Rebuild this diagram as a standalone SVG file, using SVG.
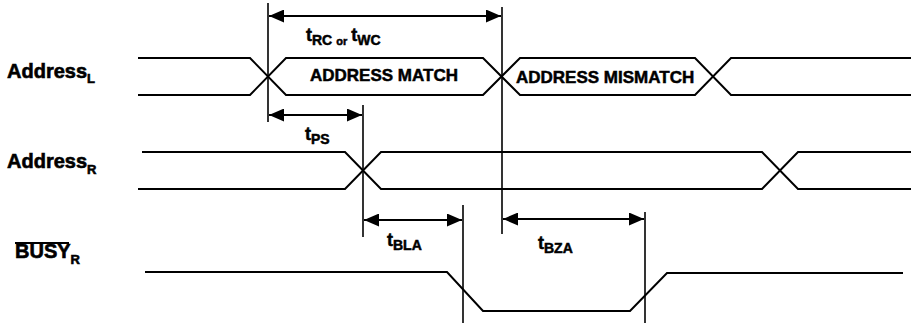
<svg xmlns="http://www.w3.org/2000/svg" width="911" height="323" viewBox="0 0 911 323">
<style>
.sig{fill:none;stroke:#000;stroke-width:2;stroke-linejoin:miter}
.ref{fill:none;stroke:#000;stroke-width:1.6}
.dim{fill:none;stroke:#000;stroke-width:2}
.lbl{font-family:"Liberation Sans",Arial,sans-serif;font-weight:bold;font-size:20px;fill:#000;stroke:#000;stroke-width:0.6}
.sub{font-size:13px}
.box{font-family:"Liberation Sans",Arial,sans-serif;font-weight:bold;font-size:17px;fill:#000;stroke:#000;stroke-width:0.5}
.tm{font-family:"Liberation Sans",Arial,sans-serif;font-weight:bold;font-size:18px;fill:#000;stroke:#000;stroke-width:0.5}
.ts{font-size:14px}
.or{font-size:11px}
</style>
<defs>
<marker id="ah" markerUnits="userSpaceOnUse" markerWidth="15" markerHeight="13" refX="15" refY="6.5" orient="auto-start-reverse" viewBox="0 0 15 13">
<path d="M0,0 L15,6.5 L0,13 z" fill="#000"/>
</marker>
</defs>
<rect width="911" height="323" fill="#fff"/>

<g id="addressL">
<text class="lbl" x="7" y="78">Address<tspan class="sub" dy="5">L</tspan></text>
<polyline class="sig" points="138,58 250,58 286,95 483,95 520,58 695,58 731,95 911,95"/>
<polyline class="sig" points="138,95 250,95 286,58 483,58 520,95 695,95 731,58 911,58"/>
<text class="box" x="384" y="81" text-anchor="middle">ADDRESS MATCH</text>
<text class="box" x="516" y="83">ADDRESS MISMATCH</text>
</g>

<g id="addressR">
<text class="lbl" x="7" y="168">Address<tspan class="sub" dy="6">R</tspan></text>
<polyline class="sig" points="142,152 345,152 381,189 762,189 798,152 911,152"/>
<polyline class="sig" points="138,189 345,189 381,152 762,152 798,189 911,189"/>
</g>

<g id="busyR">
<text class="lbl" x="15" y="258">BUSY<tspan class="sub" dy="6">R</tspan></text>
<line x1="15" y1="243" x2="69" y2="243" stroke="#000" stroke-width="2.2"/>
<polyline class="sig" points="145,272 447,272 483,311 630,311 667,273 903,273"/>
</g>

<g id="connectors">
<line class="ref" x1="268" y1="3" x2="268" y2="122"/>
<line class="ref" x1="502" y1="7" x2="502" y2="234"/>
<line class="ref" x1="363" y1="105" x2="363" y2="237"/>
<line class="ref" x1="463" y1="205" x2="463" y2="323"/>
<line class="ref" x1="645" y1="212" x2="645" y2="323"/>
<line class="dim" x1="269" y1="16" x2="501" y2="16" marker-start="url(#ah)" marker-end="url(#ah)"/>
<line class="dim" x1="269" y1="115" x2="362" y2="115" marker-start="url(#ah)" marker-end="url(#ah)"/>
<line class="dim" x1="364" y1="220" x2="462" y2="220" marker-start="url(#ah)" marker-end="url(#ah)"/>
<line class="dim" x1="503" y1="219" x2="644" y2="219" marker-start="url(#ah)" marker-end="url(#ah)"/>
</g>

<g id="labels">
<text class="tm" x="306" y="41">t<tspan class="ts" dy="4">RC</tspan><tspan class="or" dx="4">or</tspan><tspan dx="4" dy="-4">t</tspan><tspan class="ts" dy="4">WC</tspan></text>
<text class="tm" x="305" y="140">t<tspan class="ts" dy="4">PS</tspan></text>
<text class="tm" x="387" y="246">t<tspan class="ts" dy="4">BLA</tspan></text>
<text class="tm" x="538" y="249">t<tspan class="ts" dy="4">BZA</tspan></text>
</g>
</svg>
